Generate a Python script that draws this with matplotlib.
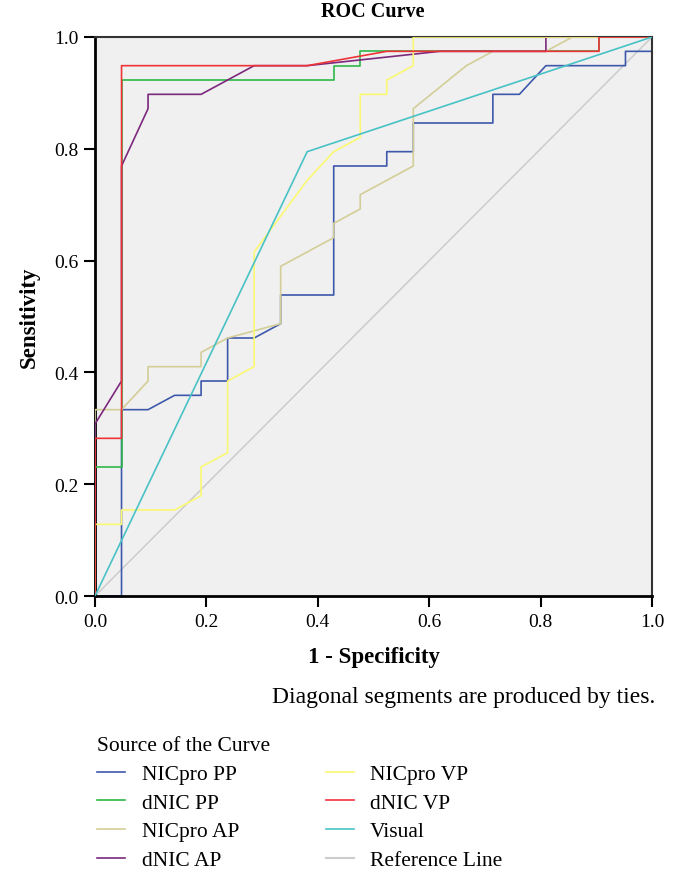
import numpy as np
import matplotlib
matplotlib.use("Agg")
import matplotlib.pyplot as plt

plt.rcParams['font.family'] = ['Liberation Serif', 'DejaVu Serif']

# ROC data, as counts: false positives out of 21, true positives out of 39
n_neg = 21
n_pos = 39

labels = ["NICpro PP", "dNIC PP", "NICpro AP", "dNIC AP",
          "NICpro VP", "dNIC VP", "Visual", "Reference Line"]
colors = ["#3E58AC", "#2EB848", "#D3CE97", "#7C287D",
          "#FBF873", "#EF3338", "#48C2C5", "#CCCCCC"]

nicpro_pp_fp = [0, 1, 1, 2, 3, 4, 4, 5, 5, 6, 7, 7, 9, 9, 11, 11, 12, 12, 15, 15, 16, 17, 20, 20, 21, 21]
nicpro_pp_tp = [0, 0, 13, 13, 14, 14, 15, 15, 18, 18, 19, 21, 21, 30, 30, 31, 31, 33, 33, 35, 35, 37, 37, 38, 38, 39]

dnic_pp_fp = [0, 0, 1, 1, 9, 9, 10, 10, 19, 19, 21]
dnic_pp_tp = [0, 9, 9, 36, 36, 37, 37, 38, 38, 39, 39]

nicpro_ap_fp = [0, 0, 1, 2, 2, 4, 4, 5, 7, 7, 9, 9, 10, 10, 12, 12, 14, 15, 17, 18, 21]
nicpro_ap_tp = [0, 13, 13, 15, 16, 16, 17, 18, 19, 23, 25, 26, 27, 28, 30, 34, 37, 38, 38, 39, 39]

dnic_ap_fp = [0, 0, 1, 1, 2, 2, 4, 6, 8, 13, 17, 17, 21]
dnic_ap_tp = [0, 12, 15, 30, 34, 35, 35, 37, 37, 38, 38, 39, 39]

nicpro_vp_fp = [0, 0, 1, 1, 3, 4, 4, 5, 5, 6, 6, 8, 9, 10, 10, 11, 11, 12, 12, 21]
nicpro_vp_tp = [0, 5, 5, 6, 6, 7, 9, 10, 15, 16, 24, 29, 31, 32, 35, 35, 36, 37, 39, 39]

dnic_vp_fp = [0, 0, 1, 1, 8, 11, 19, 19, 21]
dnic_vp_tp = [0, 11, 11, 37, 37, 38, 38, 39, 39]

visual_fp = [0, 8, 21]
visual_tp = [0, 31, 39]

curves = [(nicpro_pp_fp, nicpro_pp_tp), (dnic_pp_fp, dnic_pp_tp),
          (nicpro_ap_fp, nicpro_ap_tp), (dnic_ap_fp, dnic_ap_tp),
          (nicpro_vp_fp, nicpro_vp_tp), (dnic_vp_fp, dnic_vp_tp),
          (visual_fp, visual_tp)]

ticks = [0.0, 0.2, 0.4, 0.6, 0.8, 1.0]

fig = plt.figure(figsize=(6.79, 8.78), dpi=100)
ax = fig.add_axes([95/679, 1 - 597/878, 557/679, 559/878])
ax.set_facecolor("#F0F0F0")

# reference line underneath
ax.plot([0, 1], [0, 1], color=colors[7], lw=1.1, zorder=1)
handles = []
for i, (fp, tp) in enumerate(curves):
    h, = ax.plot(np.array(fp) / n_neg, np.array(tp) / n_pos,
                 color=colors[i], lw=1.2, zorder=2 + i)
    handles.append(h)
handles.append(plt.Line2D([], [], color=colors[7], lw=1.5))

ax.set_xlim(0, 1)
ax.set_ylim(0, 1)
ax.set_xticks(ticks)
ax.set_yticks(ticks)
ax.set_xticklabels(["%.1f" % t for t in ticks])
ax.set_yticklabels(["%.1f" % t for t in ticks])
ax.tick_params(axis='both', direction='out', length=8, width=1.5,
               labelsize=14, colors='black', pad=4)
for s in ['left', 'bottom']:
    ax.spines[s].set_linewidth(2)
    ax.spines[s].set_color('black')
for s in ['top', 'right']:
    ax.spines[s].set_linewidth(1.5)
    ax.spines[s].set_color('#333333')

ax.set_xlabel("1 - Specificity", fontsize=16.5, fontweight='bold', labelpad=12)
ax.set_ylabel("Sensitivity", fontsize=16.5, fontweight='bold', labelpad=10)
fig.text(373/679, 1 - 12/878, "ROC Curve", ha='center', va='center',
         fontsize=14.5, fontweight='bold')

fig.text(655/679, 1 - 698/878, "Diagonal segments are produced by ties.",
         ha='right', va='center', fontsize=17)

leg = fig.legend(handles, labels, ncol=2, loc='upper left',
                 bbox_to_anchor=(78/679, 1 - 718/878), frameon=False,
                 title="Source of the Curve", title_fontsize=15.5, fontsize=15.5,
                 handlelength=1.3, handletextpad=0.75, columnspacing=4.05,
                 labelspacing=0.4, alignment='left')

fig.savefig("out.png", dpi=100)
